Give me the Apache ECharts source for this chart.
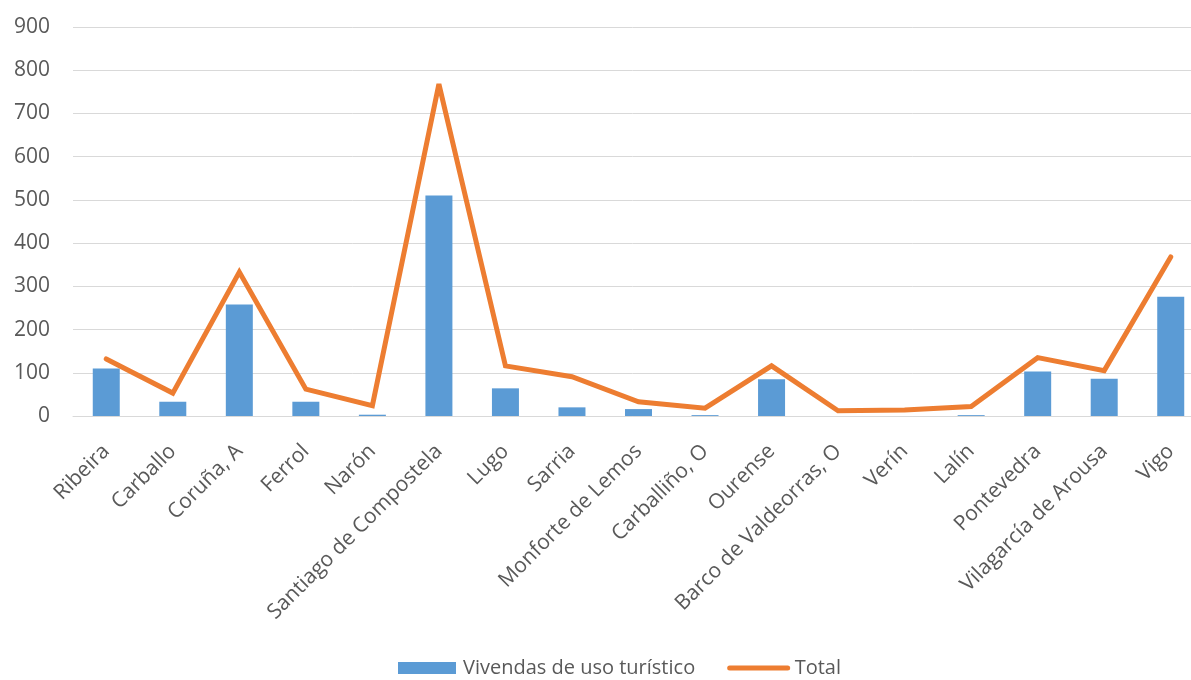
<!DOCTYPE html>
<html>
<head>
<meta charset="utf-8">
<script src="https://cdn.jsdelivr.net/npm/echarts@6/dist/echarts.min.js"></script>
<style>
  html, body { margin: 0; padding: 0; background: #ffffff; }
  #chart { width: 1191px; height: 680px; }
</style>
</head>
<body>
<div id="chart"></div>
<script>
// Municipalities (Galicia)
const municipios = [
  'Ribeira', 'Carballo', 'Coruña, A', 'Ferrol', 'Narón',
  'Santiago de Compostela', 'Lugo', 'Sarria', 'Monforte de Lemos',
  'Carballiño, O', 'Ourense', 'Barco de Valdeorras, O', 'Verín',
  'Lalín', 'Pontevedra', 'Vilagarcía de Arousa', 'Vigo'
];

// Tourist-use dwellings per municipality
const vivendasUsoTuristico = [110, 33, 258, 33, 3, 510, 64, 20, 16, 2, 85, 0, 0, 2, 103, 86, 276];

// Total per municipality
const total = [132, 53, 333, 62, 24, 768, 116, 91, 33, 18, 116, 12, 14, 22, 135, 105, 368];

// Value axis ticks
const yTicks = [0, 100, 200, 300, 400, 500, 600, 700, 800, 900];

const textColor = '#595959';
const fontFamily = '"Open Sans", "DejaVu Sans", sans-serif';

const chart = echarts.init(document.getElementById('chart'), null, { renderer: 'canvas' });

chart.setOption({
  animation: false,
  backgroundColor: '#ffffff',
  textStyle: { fontFamily: fontFamily, color: textColor },
  // the plot runs slightly past the right edge of the canvas
  grid: {
    left: 73, width: 1131, top: 27, bottom: 264,
    containLabel: false,
    outerBoundsMode: 'none'
  },
  legend: {
    left: 398,
    top: 658,
    padding: 0,
    itemWidth: 58,
    itemHeight: 12,
    itemGap: 32,
    textStyle: { fontSize: 20, color: textColor, fontFamily: fontFamily, padding: [0, 0, 0, 2] },
    data: [
      { name: 'Vivendas de uso turístico', icon: 'rect' },
      {
        name: 'Total',
        itemStyle: { opacity: 0 },
        lineStyle: { color: '#ed7d31', width: 5, cap: 'round' }
      }
    ]
  },
  xAxis: {
    type: 'category',
    data: municipios,
    boundaryGap: true,
    axisLine: { show: true, lineStyle: { color: '#d9d9d9', width: 1 } },
    axisTick: { show: false },
    axisLabel: {
      interval: 0,
      rotate: 45,
      margin: 32,
      fontSize: 21,
      color: textColor,
      fontFamily: fontFamily
    }
  },
  yAxis: {
    type: 'value',
    min: yTicks[0],
    max: yTicks[yTicks.length - 1],
    interval: 100,
    axisLine: { show: false },
    axisTick: { show: false },
    splitLine: { lineStyle: { color: '#d9d9d9', width: 1 } },
    axisLabel: {
      fontSize: 21,
      color: textColor,
      fontFamily: fontFamily,
      margin: 23
    }
  },
  series: [
    {
      name: 'Vivendas de uso turístico',
      type: 'bar',
      data: vivendasUsoTuristico,
      barWidth: 27,
      itemStyle: { color: '#5b9bd5' }
    },
    {
      name: 'Total',
      type: 'line',
      data: total,
      symbol: 'none',
      lineStyle: { color: '#ed7d31', width: 5, cap: 'round', join: 'miter', miterLimit: 4 },
      itemStyle: { color: '#ed7d31' }
    }
  ]
});
</script>
</body>
</html>
